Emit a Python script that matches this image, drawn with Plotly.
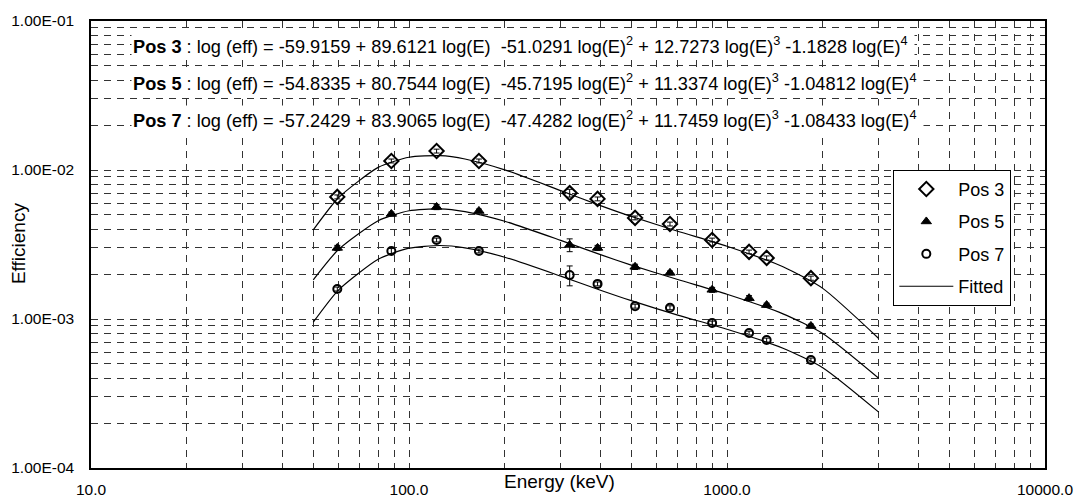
import plotly.graph_objects as go

# ---- data ----
energy = [59.5, 88.0, 122.1, 165.9, 320.1, 391.7, 514.0, 661.7, 898.0, 1173.2, 1332.5, 1836.1]
pos3 = [6.6e-3, 1.15e-2, 1.34e-2, 1.15e-2, 7.0e-3, 6.4e-3, 4.77e-3, 4.34e-3, 3.39e-3, 2.82e-3, 2.57e-3, 1.88e-3]
pos5 = [3.0e-3, 5.07e-3, 5.65e-3, 5.31e-3, 3.14e-3, 3.0e-3, 2.24e-3, 2.04e-3, 1.57e-3, 1.38e-3, 1.24e-3, 8.98e-4]
pos7 = [1.59e-3, 2.86e-3, 3.39e-3, 2.86e-3, 1.97e-3, 1.72e-3, 1.22e-3, 1.19e-3, 9.4e-4, 8.05e-4, 7.22e-4, 5.31e-4]
err3 = [2.0e-4, 3.5e-4, 4.0e-4, 3.5e-4, 4.2e-4, 1.9e-4, 1.4e-4, 1.3e-4, 1.0e-4, 8e-5, 8e-5, 6e-5]
err5 = [1.2e-4, 1.5e-4, 2.3e-4, 1.6e-4, 3.1e-4, 1.2e-4, 9e-5, 6e-5, 6e-5, 5.5e-5, 3.7e-5, 2.7e-5]
err7 = [4.8e-5, 1.1e-4, 1.0e-4, 8.6e-5, 3.0e-4, 5.2e-5, 3.7e-5, 3.6e-5, 2.8e-5, 2.4e-5, 2.2e-5, 1.6e-5]

fit_energy = [50, 60, 80, 100, 125, 150, 200, 300, 400, 500, 700, 1000, 1500, 2000, 3000]
fit3 = [3.96e-3, 6.51e-3, 1.041e-2, 1.218e-2, 1.247e-2, 1.185e-2, 1.002e-2, 7.27e-3, 5.77e-3, 4.88e-3, 3.88e-3, 3.08e-3, 2.244e-3, 1.605e-3, 7.40e-4]
fit5 = [1.833e-3, 2.925e-3, 4.57e-3, 5.33e-3, 5.49e-3, 5.26e-3, 4.53e-3, 3.37e-3, 2.705e-3, 2.30e-3, 1.84e-3, 1.466e-3, 1.083e-3, 7.99e-4, 4.00e-4]
fit7 = [9.52e-4, 1.563e-3, 2.518e-3, 2.987e-3, 3.114e-3, 3.00e-3, 2.597e-3, 1.939e-3, 1.560e-3, 1.327e-3, 1.062e-3, 8.54e-4, 6.37e-4, 4.71e-4, 2.37e-4]

x_tickvals = [10, 100, 1000, 10000]
x_ticktext = ["10.0", "100.0", "1000.0", "10000.0"]
y_tickvals = [1e-4, 1e-3, 1e-2, 1e-1]
y_ticktext = ["1.00E-04", "1.00E-03", "1.00E-02", "1.00E-01"]

equations = [
    "<b>Pos 3</b> : log (eff) = -59.9159 + 89.6121 log(E) &nbsp;-51.0291 log(E)<sup>2</sup> + 12.7273 log(E)<sup>3</sup> -1.1828 log(E)<sup>4</sup>&nbsp;",
    "<b>Pos 5</b> : log (eff) = -54.8335 + 80.7544 log(E) &nbsp;-45.7195 log(E)<sup>2</sup> + 11.3374 log(E)<sup>3</sup> -1.04812 log(E)<sup>4</sup>&nbsp;",
    "<b>Pos 7</b> : log (eff) = -57.2429 + 83.9065 log(E) &nbsp;-47.4282 log(E)<sup>2</sup> + 11.7459 log(E)<sup>3</sup> -1.08433 log(E)<sup>4</sup>&nbsp;",
]

FONT = "Liberation Sans, Arial, sans-serif"
fig = go.Figure()

def err(a):
    return dict(type="data", array=a, visible=True, color="black", thickness=1, width=3)

fig.add_trace(go.Scatter(x=energy, y=pos3, mode="markers", name="Pos 3", legendgroup="g1",
                         marker=dict(symbol="diamond-open", size=11, color="black", line=dict(width=2, color="black")),
                         error_y=err(err3)))
fig.add_trace(go.Scatter(x=energy, y=pos5, mode="markers", name="Pos 5", legendgroup="g2",
                         marker=dict(symbol="triangle-up", size=9, color="black", line=dict(width=1, color="black")),
                         error_y=err(err5)))
fig.add_trace(go.Scatter(x=energy, y=pos7, mode="markers", name="Pos 7", legendgroup="g3",
                         marker=dict(symbol="circle-open", size=8, color="black", line=dict(width=2, color="black")),
                         error_y=err(err7)))
for i, f in enumerate([fit3, fit5, fit7]):
    fig.add_trace(go.Scatter(x=fit_energy, y=f, mode="lines", name="Fitted", legendgroup="g4",
                             showlegend=(i == 0),
                             line=dict(color="black", width=1.2, shape="spline", smoothing=0.6)))

GRID = dict(showgrid=True, gridcolor="#333333", gridwidth=1, griddash="7px,6px")
axis_common = dict(type="log", showline=True, linecolor="black", linewidth=1.5, mirror=True,
                   ticks="", zeroline=False, automargin=False,
                   tickfont=dict(family=FONT, size=15.5, color="black"),
                   tickmode="array", **GRID)

fig.update_xaxes(range=[1, 4], tickvals=x_tickvals, ticktext=x_ticktext,
                 minor=dict(dtick="D1", ticks="", **GRID),
                 ticklabelstandoff=7, **axis_common)
fig.update_yaxes(range=[-4, -1], tickvals=y_tickvals, ticktext=y_ticktext,
                 minor=dict(dtick="D1", ticks="", **GRID),
                 ticklabelstandoff=12, **axis_common)

annotations = []
for txt, yy in zip(equations, [0.946, 0.8635, 0.781]):
    annotations.append(dict(text=txt, xref="paper", yref="paper", x=0.042, y=yy, xanchor="left", yanchor="middle",
                            showarrow=False, bgcolor="white", borderpad=1,
                            font=dict(family=FONT, size=18.2, color="black")))
annotations.append(dict(text="Energy (keV)", xref="paper", yref="paper", x=0.4916, y=-0.031,
                        xanchor="center", yanchor="middle", showarrow=False,
                        font=dict(family=FONT, size=19, color="black")))
annotations.append(dict(text="Efficiency", xref="paper", yref="paper", x=-0.0765, y=0.501,
                        xanchor="center", yanchor="middle", showarrow=False, textangle=-90,
                        font=dict(family=FONT, size=19, color="black")))

fig.update_layout(
    width=1092, height=499,
    margin=dict(l=91, r=47, t=21, b=31),
    paper_bgcolor="white", plot_bgcolor="white",
    font=dict(family=FONT, color="black"),
    showlegend=True,
    legend=dict(x=0.841, y=0.667, xanchor="left", yanchor="top",
                bgcolor="white", bordercolor="black", borderwidth=1,
                font=dict(family=FONT, size=18, color="black"),
                traceorder="grouped", tracegroupgap=6, itemwidth=54,
                entrywidth=72, entrywidthmode="pixels"),
    annotations=annotations,
)

fig.write_html("out.html", config={"displayModeBar": False},
               post_script="document.body.style.margin='0px';document.body.style.overflow='hidden';")
